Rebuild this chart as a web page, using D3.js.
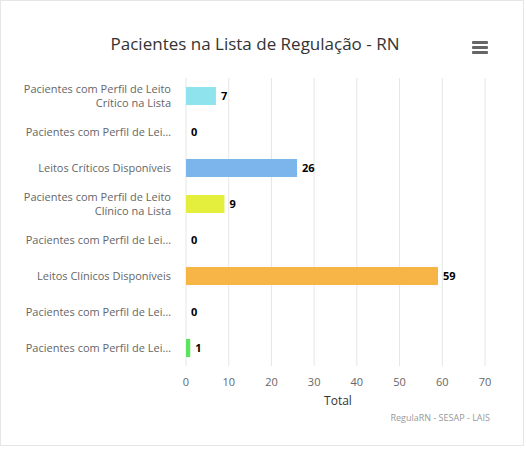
<!DOCTYPE html>
<html><head><meta charset="utf-8">
<script src="https://cdn.jsdelivr.net/npm/d3@7"></script>
<style>body{margin:0;background:#fff;font-family:"Open Sans",sans-serif}</style>
</head><body><div id="chart"></div>
<script>
const labels = [
  ["Pacientes com Perfil de Leito", "Crítico na Lista"],
  ["Pacientes com Perfil de Lei…"],
  ["Leitos Críticos Disponíveis"],
  ["Pacientes com Perfil de Leito", "Clínico na Lista"],
  ["Pacientes com Perfil de Lei…"],
  ["Leitos Clínicos Disponíveis"],
  ["Pacientes com Perfil de Lei…"],
  ["Pacientes com Perfil de Lei…"]
];
const values = [7, 0, 26, 9, 0, 59, 0, 1];
const colors = ["#8ee3ec", "#7cb5ec", "#7cb5ec", "#e4ee3c", "#e4ee3c", "#f7b547", "#5ee35e", "#5ee35e"];
const ticks = [0, 10, 20, 30, 40, 50, 60, 70];

const width = 526, height = 449;
const svg = d3.select('#chart').append('svg').attr('width', width).attr('height', height);
svg.append('rect').attr('x', 0.5).attr('y', 0.5).attr('width', width - 3).attr('height', height - 4)
  .attr('fill', '#fff').attr('stroke', '#e6e6e6');

const x = d3.scaleLinear().domain([0, 70]).range([186, 485]);
const y = d3.scaleBand().domain(d3.range(values.length)).range([78, 366]).paddingInner(0.5).paddingOuter(0.25);

svg.append('g').selectAll('line').data(ticks).enter().append('line')
  .attr('x1', d => x(d)).attr('x2', d => x(d)).attr('y1', 78).attr('y2', 366)
  .attr('stroke', '#e6e6e6');

svg.append('g').selectAll('rect').data(values).enter().append('rect')
  .attr('x', x(0)).attr('y', (d, i) => y(i))
  .attr('width', d => x(d) - x(0)).attr('height', y.bandwidth())
  .attr('fill', (d, i) => colors[i]);

svg.append('g').selectAll('text').data(values).enter().append('text')
  .attr('x', d => x(d) + 5).attr('y', (d, i) => y(i) + y.bandwidth() / 2 + 4)
  .attr('font-size', '11px').attr('font-weight', 'bold').attr('fill', '#000').text(d => d);

const lab = svg.append('g').selectAll('text').data(labels).enter().append('text')
  .attr('text-anchor', 'end').attr('font-size', '11px').attr('fill', '#666')
  .attr('y', (d, i) => y(i) + y.bandwidth() / 2 + 4 - (d.length - 1) * 7);
lab.selectAll('tspan').data(d => d).enter().append('tspan')
  .attr('x', 171).attr('dy', (d, i) => i ? 14 : 0).text(d => d);

svg.append('g').selectAll('text').data(ticks).enter().append('text')
  .attr('x', d => x(d)).attr('y', 386).attr('text-anchor', 'middle')
  .attr('font-size', '11px').attr('fill', '#666').text(d => d);

svg.append('text').attr('x', 338).attr('y', 405).attr('text-anchor', 'middle')
  .attr('font-size', '12px').attr('fill', '#333').text('Total');

svg.append('text').attr('x', 255).attr('y', 50).attr('text-anchor', 'middle')
  .attr('font-size', '17px').attr('fill', '#333').text('Pacientes na Lista de Regulação - RN');

svg.append('text').attr('x', 490).attr('y', 421).attr('text-anchor', 'end')
  .attr('font-size', '9px').attr('fill', '#999').text('RegulaRN - SESAP - LAIS');

svg.append('g').selectAll('rect').data([0, 1, 2]).enter().append('rect')
  .attr('x', 472).attr('y', d => 41 + d * 5).attr('width', 16).attr('height', 3).attr('rx', 1)
  .attr('fill', '#666');
</script></body></html>
